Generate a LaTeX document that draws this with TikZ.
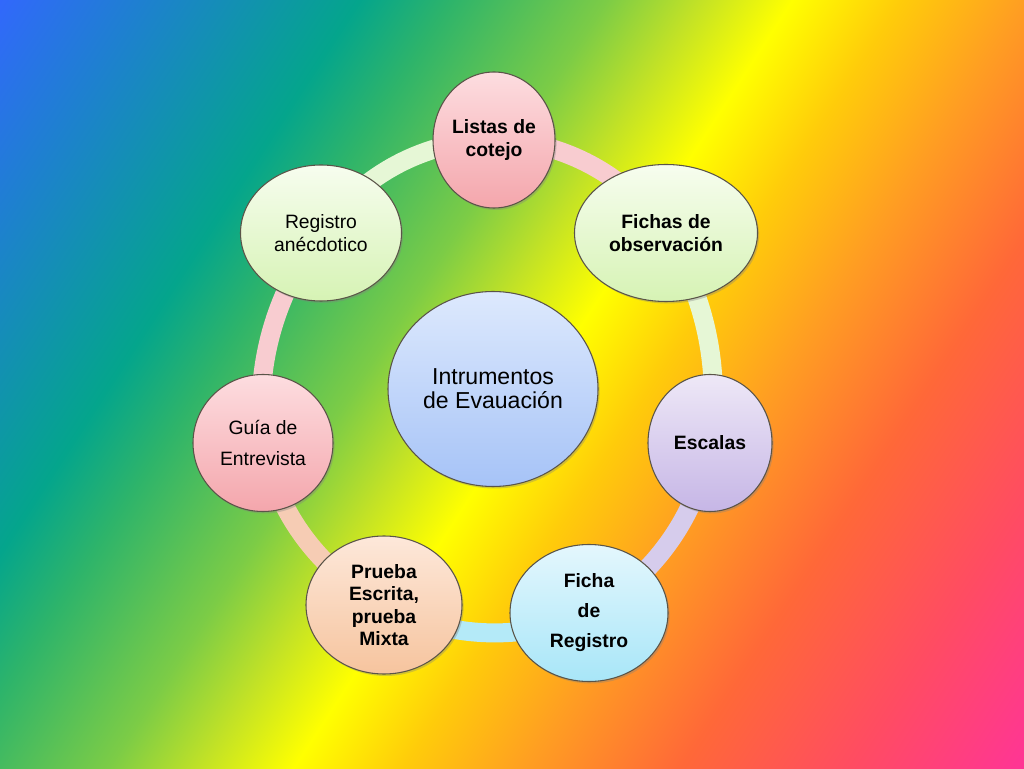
\documentclass[tikz,border=0pt]{standalone}
\usepackage{fontspec}
\setmainfont{Liberation Sans}
\usetikzlibrary{shapes.geometric,shadows}
\definecolor{bg0}{HTML}{3366FF}
\definecolor{bg1}{HTML}{1E80D0}
\definecolor{bg2}{HTML}{04A58C}
\definecolor{bg3}{HTML}{2EB46A}
\definecolor{bg4}{HTML}{7CCC46}
\definecolor{bg5}{HTML}{C2E226}
\definecolor{bg6}{HTML}{FFFF00}
\definecolor{bg7}{HTML}{FFCC0A}
\definecolor{bg8}{HTML}{FF9E22}
\definecolor{bg9}{HTML}{FF6838}
\definecolor{bg10}{HTML}{FF4C62}
\definecolor{bg11}{HTML}{FF3399}
\pgfdeclarehorizontalshading{rainbowbg}{100bp}{color(0bp)=(bg0); color(25bp)=(bg0); color(30bp)=(bg1); color(37bp)=(bg2); color(40bp)=(bg3); color(45bp)=(bg4); color(48bp)=(bg5); color(51bp)=(bg6); color(54.5bp)=(bg7); color(58.5bp)=(bg8); color(63.5bp)=(bg9); color(69bp)=(bg10); color(75bp)=(bg11); color(100bp)=(bg11)}
\definecolor{pinkT}{HTML}{FDDDE0}\definecolor{pinkB}{HTML}{F4A6AC}
\definecolor{greenT}{HTML}{F7FDEF}\definecolor{greenB}{HTML}{D6F3B4}
\definecolor{lavT}{HTML}{EEE8F7}\definecolor{lavB}{HTML}{C6B6E6}
\definecolor{cyanT}{HTML}{E4F7FD}\definecolor{cyanB}{HTML}{A8E6F8}
\definecolor{peachT}{HTML}{FDE8DA}\definecolor{peachB}{HTML}{F6C49E}
\definecolor{blueT}{HTML}{DDE9FD}\definecolor{blueB}{HTML}{A6C3F7}
\definecolor{bandpink}{HTML}{F8CCD0}
\definecolor{bandgreen}{HTML}{E6F7D6}
\definecolor{bandlav}{HTML}{D6CCEC}
\definecolor{bandcyan}{HTML}{B4EAF8}
\definecolor{bandpeach}{HTML}{F6CCB4}
\definecolor{edge}{HTML}{5A5448}
\pgfdeclarelayer{bglayer}
\pgfdeclarelayer{bandlayer}
\pgfsetlayers{bglayer,bandlayer,main}
\begin{document}
\begin{tikzpicture}[x=0.75pt,y=0.75pt,
  bub/.style={ellipse, draw=edge, line width=0.8pt, inner sep=0pt, align=center,
    drop shadow={opacity=0.35, shadow xshift=1.2pt, shadow yshift=-1.5pt}},
  boldtxt/.style={font=\fontsize{14.5}{17}\selectfont\bfseries},
  regtxt/.style={font=\fontsize{14.5}{17}\selectfont},
  pinkfill/.style={top color=pinkT, bottom color=pinkB},
  greenfill/.style={top color=greenT, bottom color=greenB},
  lavfill/.style={top color=lavT, bottom color=lavB},
  cyanfill/.style={top color=cyanT, bottom color=cyanB},
  peachfill/.style={top color=peachT, bottom color=peachB},
  bluefill/.style={top color=blueT, bottom color=blueB},
  band/.style={line width=14.25pt, bend left=26, looseness=0.9}]
\useasboundingbox (0,0) rectangle (1024,768);
\begin{pgfonlayer}{bglayer}
  \begin{scope}
    \clip (0,0) rectangle (1024,768);
    \begin{scope}[transform canvas={shift={(0,768)}, rotate=-33}]
      \shade[shading=rainbowbg] (-10,-660) rectangle (1287,575);
    \end{scope}
  \end{scope}
\end{pgfonlayer}
% nodes
\node[bub, pinkfill, boldtxt, minimum width=91.5pt, minimum height=102pt] (listas) at (494,628) {Listas de\\cotejo};
\node[bub, greenfill, boldtxt, minimum width=137.25pt, minimum height=102.75pt] (fichas) at (666,535) {Fichas de\\observación};
\node[bub, lavfill, boldtxt, minimum width=93pt, minimum height=102.75pt] (escalas) at (710,325) {Escalas};
\node[bub, cyanfill, font=\fontsize{14.5}{22.5}\selectfont\bfseries, minimum width=118.5pt, minimum height=102.75pt] (fichareg) at (589,155) {Ficha\\de\\Registro};
\node[bub, peachfill, font=\fontsize{14.5}{16.7}\selectfont\bfseries, minimum width=117pt, minimum height=103.5pt] (prueba) at (384,163) {Prueba\\Escrita,\\prueba\\Mixta};
\node[bub, pinkfill, font=\fontsize{14.5}{23.25}\selectfont, minimum width=105pt, minimum height=102.75pt] (guia) at (263,325) {Guía de\\Entrevista};
\node[bub, greenfill, regtxt, minimum width=120.75pt, minimum height=102pt] (registro) at (321,535) {Registro\\anécdotico};
\node[bub, bluefill, font=\fontsize{17.3}{18}\selectfont, minimum width=157.5pt, minimum height=146.25pt] (centro) at (493,379) {Intrumentos\\de Evauación};
% ring
\begin{pgfonlayer}{bandlayer}
  \draw[band, draw=bandpink, bend left=28] (listas.center) to (fichas.center);
  \draw[band, draw=bandgreen, bend left=20] (fichas.center) to (escalas.center);
  \draw[band, draw=bandlav] (escalas.center) to (fichareg.center);
  \draw[band, draw=bandcyan] (fichareg.center) to (prueba.center);
  \draw[band, draw=bandpeach] (prueba.center) to (guia.center);
  \draw[band, draw=bandpink, bend left=22] (guia.center) to (registro.center);
  \draw[band, draw=bandgreen, bend left=28] (registro.center) to (listas.center);
\end{pgfonlayer}
\end{tikzpicture}
\end{document}
